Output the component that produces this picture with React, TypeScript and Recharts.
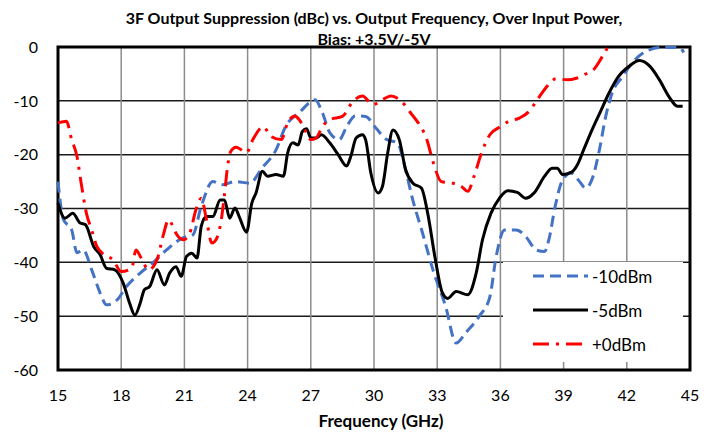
import {
    LineChart,
    Line,
    XAxis,
    YAxis,
    CartesianGrid,
    ReferenceArea
} from 'recharts';

// Frequency (GHz) / suppression (dBc), one pair of arrays per input power
const freqM10 = [15, 15.25, 15.65, 15.9, 16.2, 16.6, 17, 17.3, 17.8, 18.25, 18.9, 19.5, 20.15, 20.9, 21.4, 21.8, 22.35, 22.8, 23.4, 24.1, 24.7, 25.35, 25.8, 26.5, 27.2, 27.55, 27.9, 28.35, 28.7, 29.1, 29.6, 30.1, 30.6, 31.1, 31.5, 31.8, 32.3, 32.8, 33.4, 33.9, 34.35, 35, 35.5, 35.8, 36.2, 36.75, 37.2, 37.7, 38.1, 38.3, 38.6, 38.95, 39.35, 39.7, 40.05, 40.4, 40.7, 41, 41.3, 41.8, 42.25, 42.9, 43.65, 44.5, 44.7];
const dbcM10 = [-25, -32, -34, -38.2, -37.7, -41.4, -45.7, -47.9, -47, -44.5, -42, -40.1, -37.7, -35.5, -34.9, -29.6, -25, -25.6, -25, -25.3, -22.4, -19.1, -14.8, -12, -9.8, -12.2, -15.9, -17.2, -14.8, -12.8, -12.9, -15.1, -17.2, -17.8, -22.8, -27.8, -34.5, -41.4, -48.2, -55, -53.1, -50, -46.4, -38.9, -34, -34, -35.2, -37.7, -38, -35.8, -29.6, -24.7, -23.4, -24.7, -26.2, -24, -19.1, -12.9, -8.6, -5.5, -3, -0.8, -0.1, -0.1, -1];

const freqM5 = [15, 15.33, 15.7, 16.05, 16.3, 16.7, 17, 17.3, 17.7, 18.1, 18.4, 18.65, 18.9, 19.1, 19.35, 19.7, 20.05, 20.3, 20.6, 20.85, 21.1, 21.35, 21.6, 21.8, 22.05, 22.35, 22.7, 22.9, 23.15, 23.4, 23.6, 23.95, 24.2, 24.4, 24.7, 24.95, 25.35, 25.7, 25.9, 26.15, 26.4, 26.6, 26.8, 27, 27.25, 27.5, 27.9, 28.3, 28.7, 28.9, 29.15, 29.45, 29.6, 29.85, 30.2, 30.4, 30.65, 30.9, 31.2, 31.5, 31.85, 32.25, 32.55, 32.9, 33.25, 33.5, 33.9, 34.45, 34.85, 35.15, 35.55, 35.95, 36.35, 36.8, 37.2, 37.6, 38.1, 38.45, 38.7, 38.95, 39.35, 39.65, 39.95, 40.35, 40.75, 41.15, 41.6, 42.1, 42.6, 43.1, 43.55, 44, 44.4, 44.65];
const dbcM5 = [-29, -31.8, -30.9, -32.7, -33, -37.1, -38.6, -41.1, -41.4, -43.9, -47.6, -49.8, -47.6, -45.1, -44.5, -41.4, -44.2, -42, -40.8, -42.6, -38.9, -38.3, -39.2, -33.3, -31.5, -31.5, -28.4, -28.4, -31.8, -29.9, -31.5, -34.4, -29, -27.1, -23.1, -24, -23.7, -24, -19.7, -17.8, -18.2, -15.7, -15.2, -16.9, -16.9, -16.3, -17.8, -20, -22.1, -20.3, -16.9, -16.3, -17.2, -23.4, -27.1, -25.9, -19.7, -15.4, -17.2, -22.8, -25.3, -26.2, -30.9, -39.2, -45.7, -46.7, -45.4, -46, -42, -35.8, -30.9, -28.1, -26.7, -27, -28.1, -27.1, -24, -22.5, -22.5, -23.7, -23.3, -21.9, -19.1, -15.4, -12, -8.6, -5.5, -3.6, -2.5, -3.6, -6.1, -9.2, -11, -11];

const freqP0 = [15, 15.4, 15.65, 15.9, 16.1, 16.35, 16.6, 16.85, 17.2, 17.6, 18, 18.5, 18.7, 18.95, 19.3, 19.7, 20, 20.25, 20.45, 20.6, 20.95, 21.25, 21.55, 21.8, 22.05, 22.3, 22.5, 22.75, 22.9, 23.05, 23.2, 23.45, 23.95, 24.25, 24.75, 25.1, 25.6, 25.9, 26.25, 26.45, 26.8, 27, 27.25, 27.55, 27.9, 28.5, 29, 29.45, 29.95, 30.4, 30.8, 31.3, 31.75, 32.15, 32.5, 32.8, 33.2, 33.75, 34.15, 34.45, 34.75, 35.1, 35.5, 35.95, 36.4, 36.9, 37.35, 37.7, 38.15, 38.65, 39.2, 39.6, 40, 40.45, 40.85, 41.1];
const dbcP0 = [-14.1, -13.8, -17.2, -20.3, -25.3, -30.9, -34, -37.1, -38.6, -39.5, -41.7, -41.1, -37.7, -39.2, -41.4, -39.5, -34.9, -32.1, -33.3, -34.6, -35.8, -34.6, -30.2, -28.1, -32.1, -36.4, -35.8, -32.1, -27.5, -22.2, -19.4, -18.6, -19.6, -17.2, -14.8, -16.6, -17.2, -14.1, -12.8, -13.5, -16, -17.2, -16.9, -14.8, -13.5, -12.9, -10.1, -9.1, -10.7, -9.8, -9.1, -10.1, -12.3, -14.4, -17.1, -21.3, -25, -25.3, -25.9, -26.8, -24, -19.7, -16.3, -14.9, -13.8, -13.2, -12, -10.1, -7.6, -5.9, -6.1, -5.8, -5.1, -4.1, -1.7, 0];

const xTicks = [15, 18, 21, 24, 27, 30, 33, 36, 39, 42, 45];
const yTicks = [-60, -50, -40, -30, -20, -10, 0];

const toPoints = (fs: number[], vs: number[]) => fs.map((f, i) => ({ f, v: vs[i] }));

const SERIES = [
    { name: '-10dBm', data: toPoints(freqM10, dbcM10), color: '#4472C4', dash: '11 6' },
    { name: '-5dBm', data: toPoints(freqM5, dbcM5), color: '#000000', dash: undefined },
    { name: '+0dBm', data: toPoints(freqP0, dbcP0), color: '#FF0000', dash: '16 7 3 7' }
];

const FONT = 'Lato, "Open Sans", sans-serif';

// legend drawn as an overlay so it doesn't eat into the plot height
const LegendBox = () => (
    <div style={{
        position: 'absolute', left: 503, top: 262, width: 180, height: 100,
        background: '#fff', fontFamily: FONT, fontSize: 17, color: '#000'
    }}>
        {SERIES.map((s, i) => (
            <div key={s.name} style={{ position: 'absolute', left: 30, top: 4 + i * 34, height: 20, display: 'flex', alignItems: 'center' }}>
                <svg width={56} height={8}>
                    <line x1={0} y1={4} x2={55} y2={4} stroke={s.color} strokeWidth={3} strokeDasharray={s.dash} />
                </svg>
                <span style={{ marginLeft: 3 }}>{s.name}</span>
            </div>
        ))}
    </div>
);

const App = () => {
    return (
        <div style={{ position: 'absolute', left: 0, top: 0, width: 716, height: 433, background: '#fff' }}>
            <LineChart width={716} height={433} margin={{ top: 47, right: 26, left: 0, bottom: 0 }}>
                <CartesianGrid vertical={false} stroke="#1a1a1a" strokeWidth={1.5} />
                <CartesianGrid horizontal={false} stroke="#8c8c8c" strokeWidth={1.5} />
                <XAxis
                    dataKey="f"
                    type="number"
                    domain={[15, 45]}
                    ticks={xTicks}
                    allowDuplicatedCategory={false}
                    height={63}
                    tickSize={0}
                    tickMargin={20}
                    axisLine={false}
                    tick={{ fill: '#000', fontSize: 16, fontFamily: FONT }}
                />
                <YAxis
                    type="number"
                    domain={[-60, 0]}
                    ticks={yTicks}
                    width={58}
                    tickSize={0}
                    tickMargin={20}
                    axisLine={false}
                    tick={{ fill: '#000', fontSize: 16, fontFamily: FONT }}
                />
                <ReferenceArea x1={15} x2={45} y1={-60} y2={0} fill="none" stroke="#000" strokeWidth={3} ifOverflow="visible" />
                {SERIES.map(s => (
                    <Line
                        key={s.name}
                        data={s.data}
                        dataKey="v"
                        name={s.name}
                        type="monotone"
                        stroke={s.color}
                        strokeWidth={3}
                        strokeDasharray={s.dash}
                        dot={false}
                        isAnimationActive={false}
                    />
                ))}
            </LineChart>
            <LegendBox />
            <div style={{
                position: 'absolute', left: 58, width: 632, top: 7, textAlign: 'center',
                fontFamily: FONT, fontWeight: 700, fontSize: 16, lineHeight: '21px', color: '#000'
            }}>
                3F Output Suppression (dBc) vs. Output Frequency, Over Input Power,<br />
                Bias: +3.5V/-5V
            </div>
            <div style={{
                position: 'absolute', left: 58, width: 646, top: 410, textAlign: 'center',
                fontFamily: FONT, fontWeight: 700, fontSize: 17, color: '#000'
            }}>
                Frequency (GHz)
            </div>
        </div>
    );
};

export default App;
